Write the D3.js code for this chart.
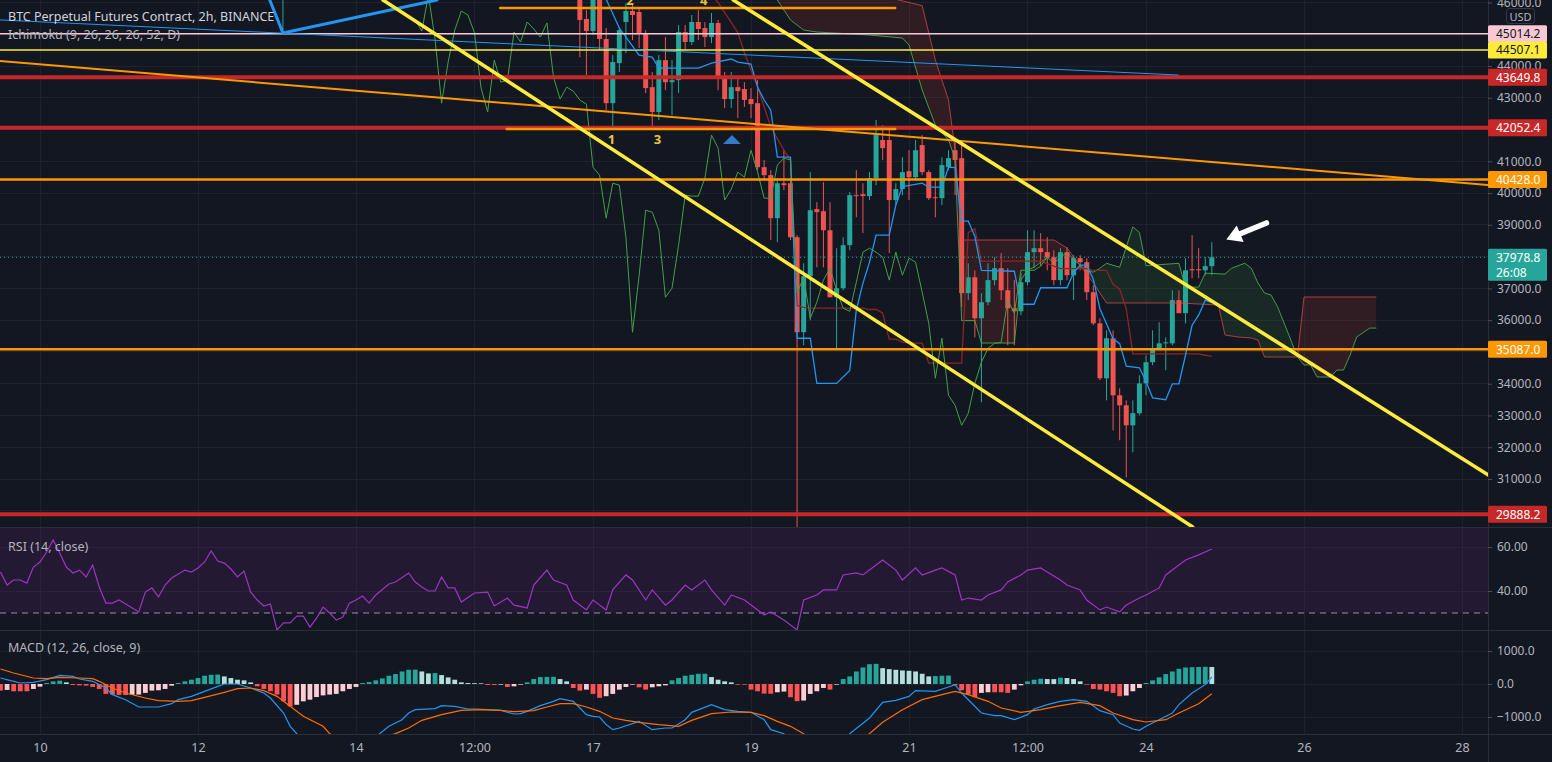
<!DOCTYPE html>
<html>
<head>
<meta charset="utf-8">
<title>BTC Perpetual Futures Contract, 2h, BINANCE</title>
<script src="https://cdn.jsdelivr.net/npm/d3@7"></script>
<style>
  html, body { margin: 0; padding: 0; background: #131722; overflow: hidden; }
  svg { display: block; font-family: "Noto Sans", "Open Sans", sans-serif; }
</style>
</head>
<body>
<svg id="chart" width="1552" height="762"></svg>
<script>
// ---- data: bar index = 2h bars counted from the 10th 00:00 ----
const firstBar = 82
const opens = [
  46390, 45480, 45100, 46235, 44850, 42830, 44090, 45385, 45730, 45700,
  45040, 43335, 42550, 44185, 43490, 43555, 45070, 44755, 45385, 45195,
  44910, 45355, 43685, 42960, 43335, 43275, 42960, 42830, 40815, 40565,
  39210, 40310, 40310, 38610, 35620, 37385, 39495, 39430, 38830, 36720,
  37005, 38360, 39935, 39965, 39905, 40470, 41670, 41670, 39780, 40125,
  40690, 40500, 41510, 40660, 39870, 39840, 40815, 41350, 41100, 36850,
  37350, 36060, 36565, 37260, 37635, 36940, 36375, 36280, 37195, 38140,
  38265, 38140, 37980, 37260, 38140, 37415, 37950, 37825, 36880, 35900,
  34170, 35430, 33635, 33320, 32690, 33070, 34010, 34675, 35115, 35270,
  35270, 36630, 36220, 37605, 37605, 37570, 37700
]
const highs = [
  46550, 45760, 46390, 46390, 45195, 44345, 45225, 45980, 45920, 45795,
  45130, 43810, 44345, 44910, 44185, 45290, 45290, 45605, 45760, 45385,
  45670, 45450, 43810, 43810, 43620, 43490, 43305, 43555, 41040, 40720,
  40470, 41350, 40470, 38675, 37790, 40660, 39715, 40345, 39715, 38265,
  38610, 40030, 40720, 40310, 40660, 42300, 42140, 41985, 40310, 41130,
  41350, 41670, 41825, 40720, 40470, 41130, 41350, 41730, 41670, 37790,
  37570, 36850, 37790, 37980, 38110, 37635, 37260, 37480, 38830, 38830,
  38740, 38610, 38200, 38265, 38300, 38045, 38045, 37950, 37100, 36060,
  35680, 35680, 33855, 33475, 33475, 34265, 34895, 35680, 35935, 35460,
  36940, 36940, 37950, 38675, 38265, 37980, 38455
]
const lows = [
  44280, 43715, 44975, 44500, 42610, 42045, 43810, 44410, 44815, 44565,
  43150, 42080, 42300, 43240, 42455, 43150, 44500, 44660, 44815, 44595,
  44720, 43240, 42675, 42675, 42360, 42710, 42360, 40720, 40405, 38520,
  38455, 40090, 38520, 27000, 35210, 35995, 37665, 37665, 36720, 35050,
  36940, 38200, 39240, 38740, 39780, 40250, 41040, 38110, 39620, 39935,
  39780, 40405, 40565, 39780, 39240, 39620, 40720, 39935, 36410, 36630,
  35460, 33415, 36470, 37100, 36630, 35210, 35210, 36155, 37100, 37635,
  37700, 37570, 37100, 37100, 37260, 36630, 37570, 36630, 35840, 34110,
  33475, 32530, 32220, 31050, 31840, 33005, 33635, 34580, 35050, 34420,
  35210, 36220, 35900, 37320, 37320, 37415, 37415
]
const closes = [
  45450, 45100, 46235, 44850, 42830, 44125, 45130, 45730, 45605, 45040,
  43305, 42550, 44185, 43490, 43555, 45070, 44755, 45385, 45165, 44910,
  45355, 43650, 42960, 43335, 43210, 42930, 42800, 40815, 40565, 39210,
  40310, 40250, 38610, 35620, 37385, 39460, 39400, 38830, 36720, 37005,
  38360, 39935, 39905, 39905, 40470, 41825, 41415, 39780, 40125, 40660,
  40500, 41350, 40660, 39840, 39840, 40880, 41100, 41040, 36850, 37350,
  36060, 36565, 37260, 37635, 36940, 36375, 36280, 37195, 38140, 38265,
  38140, 37980, 37260, 38140, 37415, 37950, 37825, 36880, 35900, 34170,
  35430, 33635, 33320, 32690, 33070, 34010, 34675, 35115, 35270, 35300,
  36630, 36220, 37570, 37570, 37570, 37700, 37978.8
]

// Ichimoku lines, [bar, price]
const tenkan = [
  [84, 46500], [86, 46100], [88, 45195], [91, 44345], [93, 44280], [94, 43935], [100, 43935],
  [102, 44090], [105, 44220], [106, 44125], [108, 44060], [109, 43335], [110, 42930], [111, 42610],
  [112, 41130], [114, 41130], [115, 35430], [117, 35430], [118, 34010], [121, 34010], [123, 34420],
  [124, 36320], [125, 37160], [126, 37825], [127, 38675], [129, 38675], [130, 39620], [131, 40205],
  [134, 40310], [135, 40185], [137, 40185], [138, 40815], [139, 40800], [140, 39120], [141, 39120],
  [142, 38640], [143, 37570], [148, 37540], [149, 36500], [151, 36500], [152, 37020], [156, 37020],
  [157, 37490], [158, 37730], [159, 37730], [160, 37290], [161, 36360], [162, 35890], [163, 35415],
  [164, 35260], [165, 34550], [167, 34500], [168, 34075], [169, 33555], [171, 33495], [172, 33995],
  [173, 33995], [174, 34895], [175, 35840], [176, 36155], [177, 36630], [178, 36550]
]
const kijun = [
  [100, 46700], [103, 46000], [106, 45050], [107, 44420], [109, 43340], [110, 42710], [111, 42080],
  [113, 41350], [114, 41040], [115, 36460], [116, 36400], [117, 36380], [125, 36380], [126, 36335],
  [127, 36335], [128, 36225], [129, 35405], [130, 35405], [131, 35310], [132, 35280], [134, 35280],
  [135, 34650], [140, 34650], [141, 38755], [142, 38880], [143, 37860], [152, 37860], [153, 37780],
  [154, 37700], [155, 37620], [159, 37620], [160, 37570], [162, 37570], [163, 37130], [164, 36975],
  [165, 36360], [166, 34940], [176, 34940], [177, 34895], [178, 34860]
]
const senkouA = [
  [108, 46800], [112, 46077], [113, 45762], [114, 45447], [116, 45133], [118, 45070], [126, 44975],
  [131, 44881], [132, 44660], [134, 43244], [136, 42142], [138, 41670], [139, 41085], [140, 35985],
  [142, 35985], [143, 35280], [148, 35280], [149, 37260], [150, 37570], [151, 37665], [153, 37980],
  [154, 37790], [156, 38145], [157, 37900], [159, 37570], [160, 37510], [161, 37635], [162, 37790],
  [164, 37665], [166, 38937], [167, 38760], [168, 37716], [173, 37790], [174, 37040],
  [176, 37040], [177, 37480], [180, 37450], [181, 37635], [183, 37790], [184, 37635], [185, 37170],
  [186, 36855], [187, 36790], [188, 36415], [190, 35375], [191, 34840], [192, 34590], [193, 34590],
  [194, 34210], [196, 34210], [197, 34430], [198, 34430], [199, 34900], [200, 35470], [202, 35750],
  [203, 35750]
]
const senkouB = [
  [108, 46800], [130, 46100], [134, 45900], [136, 44190], [138, 42930], [139, 41356], [140, 38523],
  [154, 38523], [156, 38271], [160, 37169], [162, 36540], [173, 36540], [179, 36477], [180, 35532],
  [182, 35469], [184, 35438], [185, 35375], [186, 34840], [191, 34840], [192, 36729], [203, 36729]
]

// RSI (14, close), [bar, value]
const rsi = [
  [-6, 48.6], [-5, 42.7], [-4, 45.0], [-3, 45.0], [-2, 43.6], [-1, 50.9], [0, 53.2], [1, 57.7],
  [2, 63.2], [3, 57.3], [4, 50.9], [5, 48.2], [6, 49.5], [7, 46.4], [8, 51.8], [9, 41.8], [10, 34.5],
  [11, 34.5], [12, 35.9], [15, 30.5], [16, 39.5], [17, 41.4], [18, 37.3], [19, 42.7], [20, 45.9],
  [22, 49.5], [23, 48.6], [24, 50.5], [25, 53.2], [26, 58.2], [27, 53.6], [28, 52.7], [29, 50.0],
  [30, 46.4], [31, 49.1], [32, 39.5], [33, 35.9], [34, 33.2], [35, 34.1], [36, 22.3], [37, 25.5],
  [38, 25.5], [39, 28.6], [40, 28.6], [41, 23.6], [42, 27.7], [43, 32.7], [44, 30.0], [45, 26.8],
  [46, 28.2], [47, 34.5], [48, 35.9], [49, 37.7], [50, 34.5], [51, 38.2], [53, 43.2], [54, 44.1],
  [56, 48.2], [57, 44.1], [58, 41.8], [59, 40.0], [60, 40.0], [61, 46.4], [62, 41.4], [63, 41.4],
  [64, 35.0], [66, 39.1], [68, 39.5], [69, 33.2], [70, 35.0], [71, 36.8], [72, 33.6], [74, 32.3],
  [75, 42.7], [77, 49.5], [78, 45.0], [80, 42.7], [81, 35.9], [83, 31.4], [84, 35.9], [86, 31.4],
  [87, 40.5], [89, 47.3], [90, 45.0], [92, 35.9], [93, 40.5], [95, 33.6], [96, 35.9], [98, 42.7],
  [99, 40.5], [101, 45.0], [102, 40.5], [104, 33.6], [105, 38.2], [107, 35.9], [108, 33.6],
  [110, 29.1], [111, 30.5], [113, 26.8], [115, 22.3], [116, 35.9], [118, 38.2], [119, 40.5],
  [121, 40.5], [122, 47.3], [124, 48.2], [125, 47.3], [127, 51.8], [128, 54.1], [130, 49.5],
  [131, 45.0], [133, 50.5], [134, 47.3], [136, 49.5], [137, 50.5], [139, 47.3], [140, 35.9],
  [141, 36.8], [143, 35.9], [144, 38.2], [146, 40.5], [147, 44.1], [149, 47.3], [150, 49.5],
  [152, 50.5], [153, 48.6], [155, 45.0], [156, 42.7], [158, 40.5], [159, 35.9], [161, 31.4],
  [162, 32.7], [164, 30.5], [165, 33.6], [167, 36.8], [168, 38.2], [170, 41.4], [171, 47.3],
  [173, 51.8], [174, 54.1], [176, 56.4], [178, 59.1]
]

// MACD (12, 26, close, 9)
const histFirstBar = -6
const histogram = [
  -200, -180, -220, -220, -220, -150,
  -80, 30, 80, 100, 50, -30, -40, -50, -90, -150,
  -300, -320, -330, -335, -330, -320, -270, -200, -190, -150,
  -50, 30, 80, 130, 180, 250, 280, 285, 230, 180,
  130, 110, 50, -70, -150, -220, -320, -525, -680, -630,
  -525, -475, -395, -345, -320, -300, -220, -150, -90, 30,
  60, 110, 170, 250, 300, 380, 430, 435, 380, 320,
  330, 270, 200, 130, 50, 30, 25, 20, -30, -30,
  -20, -90, -70, -20, 50, 150, 210, 215, 218, 150,
  80, -120, -200, -170, -300, -420, -370, -300, -170, -90,
  -20, -100, -170, -100, -70, -40, 110, 180, 250, 280,
  310, 312, 210, 130, 80, 50, -20, -20, -170, -220,
  -290, -295, -250, -230, -400, -520, -500, -300, -220, -120,
  -170, -20, 150, 230, 380, 500, 600, 610, 480, 450,
  430, 410, 400, 380, 310, 230, 240, 250, 255, -40,
  -190, -320, -400, -270, -250, -250, -250, -270, -170, -40,
  80, 130, 160, 150, 148, 190, 180, 150, 80, -20,
  -150, -170, -220, -270, -370, -350, -220, -120, 30, 110,
  200, 300, 380, 460, 500, 510, 515, 520, 515
]
const macdLine = [
  [-6, 182], [-4, 81], [-3, 30], [-1, 50], [1, 131], [3, 263], [5, 232], [6, 152], [8, 81],
  [10, -121], [11, -323], [13, -475], [15, -697], [18, -697], [20, -596], [21, -475], [23, -374],
  [25, -222], [27, -71], [28, 0], [30, 0], [32, -121], [34, -273], [35, -424], [37, -879],
  [38, -1283], [39, -1505], [42, -2000], [45, -2200], [48, -2000], [51, -1600], [53, -1283],
  [55, -1081], [56, -879], [57, -778], [60, -747], [61, -657], [63, -677], [65, -758], [66, -758],
  [68, -778], [70, -798], [72, -909], [73, -899], [74, -828], [76, -657], [78, -525], [79, -444],
  [81, -525], [82, -727], [83, -929], [84, -980], [85, -1000], [86, -1230], [87, -1384],
  [88, -1333], [91, -1131], [93, -1384], [95, -1333], [96, -1333], [98, -1081], [99, -859],
  [102, -626], [104, -778], [106, -828], [108, -859], [110, -1081], [111, -1384], [113, -1505],
  [115, -2200], [117, -2700], [120, -2400], [122, -1800], [123, -1505], [126, -1030], [128, -556],
  [130, -495], [132, -374], [133, -202], [136, -222], [138, -91], [139, -20], [140, -273],
  [143, -879], [145, -960], [146, -960], [148, -1081], [150, -929], [151, -758], [153, -626],
  [155, -525], [157, -475], [159, -525], [161, -808], [163, -929], [164, -1182], [166, -1364],
  [167, -1404], [168, -1283], [170, -1081], [172, -879], [173, -626], [175, -273], [177, -20],
  [178, 212]
]
const signalLine = [
  [-6, 455], [-4, 333], [-1, 182], [1, 162], [3, 202], [6, 182], [8, 162], [9, 81], [11, -121],
  [13, -273], [16, -424], [18, -505], [21, -525], [23, -505], [25, -404], [28, -253], [30, -141],
  [32, -121], [34, -202], [36, -374], [38, -677], [40, -980], [43, -1283], [44, -1505], [47, -1800],
  [50, -1750], [54, -1505], [56, -1333], [58, -1101], [61, -929], [64, -798], [67, -778], [70, -798],
  [72, -838], [75, -808], [77, -697], [79, -596], [81, -596], [83, -697], [85, -828], [87, -1030],
  [89, -1101], [91, -1162], [94, -1232], [97, -1283], [99, -1101], [102, -899], [105, -848],
  [108, -859], [110, -960], [112, -1131], [114, -1283], [116, -1505], [119, -2000], [122, -1900],
  [126, -1505], [128, -1162], [131, -778], [134, -475], [137, -323], [139, -222], [141, -323],
  [144, -525], [146, -727], [149, -859], [152, -778], [155, -657], [158, -556], [161, -657],
  [163, -879], [166, -1081], [168, -1151], [171, -1081], [173, -879], [176, -596], [178, -293]
]

// axes
const timeTicks = [0, 24, 48, 66, 84, 108, 132, 150, 168, 192, 216]
const timeLabels = ['10', '12', '14', '12:00', '17', '19', '21', '12:00', '24', '26', '28']
const priceTicks = d3.range(30000, 47000, 1000)
const rsiTicks = [40, 60]
const macdTicks = [-1000, 0, 1000]

// drawings
const levelPrices = [45014.2, 44507.1, 43649.8, 42052.4, 40428.0, 35087.0, 29888.2]
const lastPrice = 37978.8
const countdown = '26:08'
const channelLower = [[52.1, 46077], [175.1, 29489]]
const channelUpper = [[105.3, 46077], [220, 31126]]
const longOrange = [[-6.1, 44157], [220, 40254]]
const thinBlue = [[-6.1, 45450], [172.9, 43716]]
const blueZigzag = [[34.9, 46077], [36.9, 45040], [60.3, 46077]]
const tealStroke = [[36.9, 46300], [36.9, 45040]]
const patternTop = [[69.9, 45825], [129.9, 45825]]
const patternBase = [[70.9, 42020], [129.9, 42020]]
const patternLabels = [['2', 89.6, 45930], ['4', 100.8, 45930], ['1', 86.8, 41560], ['3', 93.8, 41560]]
const markerUp = [105.1, 41670]
const arrow = [[186.3, 39060], [180.2, 38540]]

// ---- drawing ----
const svg = d3.select('#chart')
const W = 1552, H = 762, plotRight = 1488
const bg = '#131722', gridColor = '#1e222d', border = '#2a2e39', textColor = '#b2b5be'
const up = '#26a69a', down = '#ef5350'
const fs = 12.5

const x = d3.scaleLinear().domain([0, 216]).range([40, 1462])
const yP = d3.scaleLinear().domain([31000, 44000]).range([479, 66])
const yR = d3.scaleLinear().domain([40, 60]).range([591, 547])
const yM = d3.scaleLinear().domain([-1000, 1000]).range([717, 651])
const pane = { price: [0, 527], rsi: [528, 630], macd: [631, 734] }

svg.append('rect').attr('width', W).attr('height', H).attr('fill', bg)
const defs = svg.append('defs')
Object.entries(pane).forEach(([k, [y0, y1]]) => {
  defs.append('clipPath').attr('id', 'clip-' + k)
    .append('rect').attr('x', 0).attr('y', y0).attr('width', plotRight).attr('height', y1 - y0)
})

// grid
const grid = svg.append('g').attr('stroke', gridColor).attr('stroke-width', 1).attr('shape-rendering', 'crispEdges')
Object.values(pane).forEach(([y0, y1]) => {
  timeTicks.forEach(t => grid.append('line').attr('x1', x(t)).attr('x2', x(t)).attr('y1', y0).attr('y2', y1))
})
priceTicks.forEach(p => grid.append('line').attr('x1', 0).attr('x2', plotRight).attr('y1', yP(p)).attr('y2', yP(p)))
rsiTicks.forEach(v => grid.append('line').attr('x1', 0).attr('x2', plotRight).attr('y1', yR(v)).attr('y2', yR(v)))
macdTicks.forEach(v => grid.append('line').attr('x1', 0).attr('x2', plotRight).attr('y1', yM(v)).attr('y2', yM(v)))

const line = (sx, sy) => d3.line().x(d => sx(d[0])).y(d => sy(d[1]))
const priceLine = line(x, yP)

// ---- price pane ----
const pg = svg.append('g').attr('clip-path', 'url(#clip-price)')

// cloud: fill between the two leading spans, green where A is on top, red where B is
const pxA = senkouA.map(d => [x(d[0]), yP(d[1])])
const pxB = senkouB.map(d => [x(d[0]), yP(d[1])])
const cx0 = x(senkouA[0][0]), cx1 = x(senkouA[senkouA.length - 1][0])
const toTop = pts => d3.line()(pts) + `L${cx1},-3000L${cx0},-3000Z`
const toBottom = pts => d3.line()(pts) + `L${cx1},4000L${cx0},4000Z`
defs.append('clipPath').attr('id', 'below-a').append('path').attr('d', toBottom(pxA))
defs.append('clipPath').attr('id', 'above-a').append('path').attr('d', toTop(pxA))
pg.append('g').attr('clip-path', 'url(#below-a)')
  .append('path').attr('d', toTop(pxB)).attr('fill', 'rgba(67,160,71,0.13)')
pg.append('g').attr('clip-path', 'url(#above-a)')
  .append('path').attr('d', toBottom(pxB)).attr('fill', 'rgba(244,67,54,0.13)')

// candles
const bars = closes.map((c, i) => ({ b: firstBar + i, o: opens[i], h: highs[i], l: lows[i], c }))
const cg = pg.append('g')
cg.selectAll('line').data(bars).join('line')
  .attr('x1', d => x(d.b)).attr('x2', d => x(d.b))
  .attr('y1', d => yP(d.h)).attr('y2', d => yP(d.l))
  .attr('stroke', d => d.c >= d.o ? up : down).attr('stroke-width', 1)
cg.selectAll('rect').data(bars).join('rect')
  .attr('x', d => x(d.b) - 2.5).attr('width', 5)
  .attr('y', d => yP(Math.max(d.o, d.c)))
  .attr('height', d => Math.max(1, Math.abs(yP(d.o) - yP(d.c))))
  .attr('fill', d => d.c >= d.o ? up : down)

// ichimoku lines
const lagging = closes.map((c, i) => [firstBar + i - 25, c])
const ichi = [
  [senkouA, '#4caf50', 1, 0.85],
  [senkouB, '#e04848', 1, 0.75],
  [kijun, '#8e2424', 1.3, 1],
  [tenkan, '#2196f3', 1.3, 1],
  [lagging, '#43a047', 1, 1]
]
ichi.forEach(([data, color, w, op]) => {
  pg.append('path').attr('d', priceLine(data)).attr('fill', 'none')
    .attr('stroke', color).attr('stroke-width', w).attr('stroke-opacity', op)
})

// last price dotted line
pg.append('line').attr('x1', 0).attr('x2', plotRight).attr('y1', yP(lastPrice)).attr('y2', yP(lastPrice))
  .attr('stroke', up).attr('stroke-width', 1).attr('stroke-dasharray', '1,3')

// horizontal levels
const levelKinds = ['pink', 'yellow', 'red', 'red', 'orange', 'orange', 'red']
const levelStyle = {
  pink: { stroke: '#f8c8d4', width: 1.5, bg: '#f8c8d4', fg: '#131722' },
  yellow: { stroke: '#ffeb3b', width: 1.5, bg: '#ffeb3b', fg: '#131722' },
  red: { stroke: '#c62828', width: 4, bg: '#c62828', fg: '#ffffff' },
  orange: { stroke: '#ff9800', width: 2.5, bg: '#ff9800', fg: '#ffffff' }
}
levelPrices.forEach((p, i) => {
  const s = levelStyle[levelKinds[i]]
  pg.append('line').attr('x1', 0).attr('x2', plotRight).attr('y1', yP(p)).attr('y2', yP(p))
    .attr('stroke', s.stroke).attr('stroke-width', s.width)
})

// trend lines and pattern drawing
const drawn = [
  [thinBlue, '#2196f3', 1],
  [longOrange, '#ff9800', 2],
  [patternTop, '#ff9800', 2.5],
  [patternBase, '#ff9800', 2.5],
  [tealStroke, '#26a69a', 1],
  [blueZigzag, '#2196f3', 3],
  [channelLower, '#ffeb3b', 3.5],
  [channelUpper, '#ffeb3b', 3.5]
]
drawn.forEach(([data, color, w]) => {
  pg.append('path').attr('d', priceLine(data)).attr('fill', 'none')
    .attr('stroke', color).attr('stroke-width', w).attr('stroke-linecap', 'round')
})
pg.selectAll('text.pl').data(patternLabels).join('text').attr('class', 'pl')
  .attr('x', d => x(d[1])).attr('y', d => yP(d[2]))
  .attr('text-anchor', 'middle').attr('font-size', 13).attr('font-weight', 700)
  .attr('fill', '#e9c43b').text(d => d[0])

// up marker
{
  const mx = x(markerUp[0]), my = yP(markerUp[1])
  pg.append('path').attr('d', `M${mx},${my - 5}L${mx + 9},${my + 4}L${mx - 9},${my + 4}Z`).attr('fill', '#3179c9')
}
// white arrow
{
  const [tx, ty] = [x(arrow[0][0]), yP(arrow[0][1])]
  const [hx, hy] = [x(arrow[1][0]), yP(arrow[1][1])]
  const len = Math.hypot(hx - tx, hy - ty), ux = (hx - tx) / len, uy = (hy - ty) / len
  const bx = hx - ux * 15, by = hy - uy * 15
  pg.append('line').attr('x1', tx).attr('y1', ty).attr('x2', bx).attr('y2', by)
    .attr('stroke', '#ffffff').attr('stroke-width', 5.5).attr('stroke-linecap', 'round')
  pg.append('path')
    .attr('d', `M${hx},${hy}L${bx - uy * 9},${by + ux * 9}L${bx + uy * 9},${by - ux * 9}Z`)
    .attr('fill', '#ffffff')
}

// legends
svg.append('text').attr('x', 8).attr('y', 20.5).attr('font-size', fs).attr('fill', '#d1d4dc')
  .text('BTC Perpetual Futures Contract, 2h, BINANCE')
svg.append('text').attr('x', 8).attr('y', 38.5).attr('font-size', fs).attr('fill', '#b2b5be')
  .text('Ichimoku (9, 26, 26, 26, 52, D)')

// ---- RSI pane ----
const rg = svg.append('g').attr('clip-path', 'url(#clip-rsi)')
rg.append('rect').attr('x', 0).attr('width', plotRight).attr('y', yR(70)).attr('height', yR(30) - yR(70))
  .attr('fill', 'rgba(156,39,176,0.12)')
;[70, 30].forEach(v => rg.append('line').attr('x1', 0).attr('x2', plotRight).attr('y1', yR(v)).attr('y2', yR(v))
  .attr('stroke', '#c5b6dd').attr('stroke-opacity', 0.75).attr('stroke-dasharray', '6,5'))
rg.append('path').attr('d', line(x, yR)(rsi)).attr('fill', 'none').attr('stroke', '#9c36c2').attr('stroke-width', 1.2)
svg.append('text').attr('x', 8).attr('y', 550.5).attr('font-size', fs).attr('fill', textColor).text('RSI (14, close)')

// ---- MACD pane ----
const mg = svg.append('g').attr('clip-path', 'url(#clip-macd)')
const hist = histogram.map((v, i) => ({ b: histFirstBar + i, v, prev: i ? histogram[i - 1] : v }))
mg.selectAll('rect').data(hist).join('rect')
  .attr('x', d => x(d.b) - 2.4).attr('width', 4.8)
  .attr('y', d => Math.min(yM(d.v), yM(0))).attr('height', d => Math.abs(yM(d.v) - yM(0)))
  .attr('fill', d => d.v >= 0 ? (d.v > d.prev ? '#26a69a' : '#b2dfdb') : (d.v > d.prev ? '#ffcdd2' : '#ff5252'))
mg.append('path').attr('d', line(x, yM)(macdLine)).attr('fill', 'none').attr('stroke', '#2196f3').attr('stroke-width', 1.2)
mg.append('path').attr('d', line(x, yM)(signalLine)).attr('fill', 'none').attr('stroke', '#ff6d00').attr('stroke-width', 1.2)
svg.append('text').attr('x', 8).attr('y', 651.5).attr('font-size', fs).attr('fill', textColor).text('MACD (12, 26, close, 9)')

// ---- separators and borders ----
const sep = svg.append('g').attr('stroke', border).attr('stroke-width', 1).attr('shape-rendering', 'crispEdges')
sep.append('line').attr('x1', 0).attr('x2', W).attr('y1', 527.5).attr('y2', 527.5)
sep.append('line').attr('x1', 0).attr('x2', W).attr('y1', 630.5).attr('y2', 630.5)
sep.append('line').attr('x1', 0).attr('x2', W).attr('y1', 734.5).attr('y2', 734.5)
sep.append('line').attr('x1', plotRight + 0.5).attr('x2', plotRight + 0.5).attr('y1', 0).attr('y2', H)

// ---- axes ----
function styleAxis(g) {
  g.select('.domain').remove()
  g.attr('font-family', null).attr('font-size', null)
  g.selectAll('.tick line').attr('stroke', '#4a4e59')
  g.selectAll('text').attr('fill', textColor).attr('font-size', 12)
}
// the price scale hides tick labels that sit under a coloured level label
const labelled = levelPrices.concat([lastPrice])
const shownPriceTicks = priceTicks.filter(p => labelled.every(l => Math.abs(yP(p) - yP(l)) > 9))
svg.append('g').attr('transform', `translate(${plotRight},0)`)
  .call(d3.axisRight(yP).tickValues(shownPriceTicks).tickFormat(d => d.toFixed(1)).tickSize(4).tickPadding(5))
  .call(styleAxis)
svg.append('g').attr('transform', `translate(${plotRight},0)`)
  .call(d3.axisRight(yR).tickValues(rsiTicks).tickFormat(d => d.toFixed(2)).tickSize(4).tickPadding(5))
  .call(styleAxis)
svg.append('g').attr('transform', `translate(${plotRight},0)`)
  .call(d3.axisRight(yM).tickValues(macdTicks)
    .tickFormat(d => (d < 0 ? '\u2212' : '') + Math.abs(d).toFixed(1)).tickSize(4).tickPadding(5))
  .call(styleAxis)
svg.append('g').attr('transform', 'translate(0,735)')
  .call(d3.axisBottom(x).tickValues(timeTicks).tickFormat((d, i) => timeLabels[i]).tickSize(0).tickPadding(8))
  .call(styleAxis)
  .selectAll('text').attr('font-size', 12.5)

// USD box
svg.append('rect').attr('x', 1506.5).attr('y', 8.5).attr('width', 28).attr('height', 15).attr('rx', 3)
  .attr('fill', bg).attr('stroke', '#363a45')
svg.append('text').attr('x', 1520.5).attr('y', 16).attr('text-anchor', 'middle').attr('dominant-baseline', 'central')
  .attr('font-size', 11).attr('fill', textColor).text('USD')

// level labels on the price scale
const labels = svg.append('g')
levelPrices.forEach((p, i) => {
  const s = levelStyle[levelKinds[i]]
  const yy = yP(p)
  labels.append('rect').attr('x', plotRight).attr('y', yy - 8.5).attr('width', 59).attr('height', 17).attr('rx', 1.5).attr('fill', s.bg)
  labels.append('text').attr('x', plotRight + 8).attr('y', yy).attr('dominant-baseline', 'central')
    .attr('font-size', 12).attr('fill', s.fg).text(p.toFixed(1))
})
{
  const yy = yP(lastPrice)
  labels.append('rect').attr('x', plotRight).attr('y', yy - 8.5).attr('width', 59).attr('height', 32).attr('rx', 1.5).attr('fill', up)
  labels.append('text').attr('x', plotRight + 8).attr('y', yy).attr('dominant-baseline', 'central')
    .attr('font-size', 12).attr('fill', '#ffffff').text(lastPrice.toFixed(1))
  labels.append('text').attr('x', plotRight + 8).attr('y', yy + 15).attr('dominant-baseline', 'central')
    .attr('font-size', 12).attr('fill', '#ffffff').text(countdown)
}
</script>
</body>
</html>
